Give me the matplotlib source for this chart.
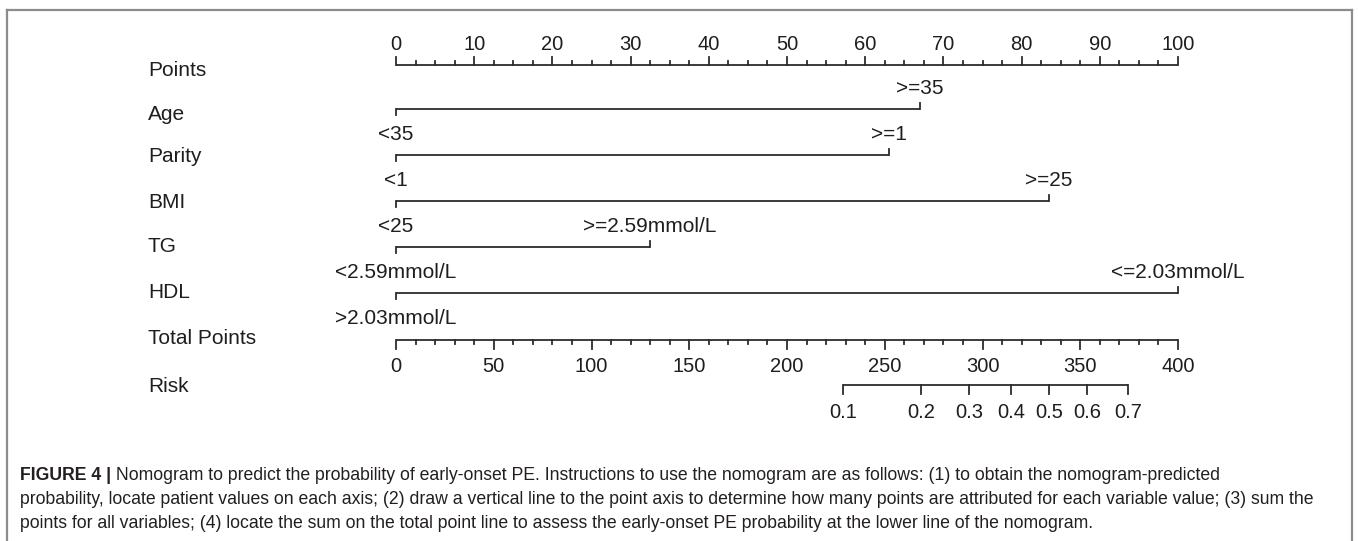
import matplotlib
matplotlib.use('Agg')
import matplotlib.pyplot as plt
from matplotlib.lines import Line2D
import numpy as np

plt.rcParams['font.family'] = ['Liberation Sans', 'DejaVu Sans']

# ---------------- data ----------------
points_ticks = [0, 10, 20, 30, 40, 50, 60, 70, 80, 90, 100]
variables = ['Age', 'Parity', 'BMI', 'TG', 'HDL']
low_labels = ['<35', '<1', '<25', '<2.59mmol/L', '>2.03mmol/L']
high_labels = ['>=35', '>=1', '>=25', '>=2.59mmol/L', '<=2.03mmol/L']
low_points = [0, 0, 0, 0, 0]
high_points = [67, 63, 83.5, 32.5, 100]
total_ticks = [0, 50, 100, 150, 200, 250, 300, 350, 400]
risk_ticks = ['0.1', '0.2', '0.3', '0.4', '0.5', '0.6', '0.7']
risk_total_points = [228.5, 268.5, 293, 314.5, 334, 353.5, 374.5]

caption_bold = 'FIGURE 4 |'
caption_lines = [
    ' Nomogram to predict the probability of early-onset PE. Instructions to use the nomogram are as follows: (1) to obtain the nomogram-predicted',
    'probability, locate patient values on each axis; (2) draw a vertical line to the point axis to determine how many points are attributed for each variable value; (3) sum the',
    'points for all variables; (4) locate the sum on the total point line to assess the early-onset PE probability at the lower line of the nomogram.',
]

# ---------------- layout ----------------
W, H = 1358, 541
X0, PX = 396, 7.82          # pixel of 0 points, pixels per point
TOTAL_MAX = 400.0
row_names = ['Points'] + variables + ['Total Points', 'Risk']
row_line_y = [65, 109, 155, 201, 247, 293, 340, 385]
row_label_y = [70, 115, 157, 203, 246, 293, 338, 387]
label_px = 148
line_col = '#2c2c2c'
text_col = '#1e1e1e'
lw = 1.3
fs_row = 15
fs_tick = 14.5
fs_cat = 15

fig = plt.figure(figsize=(W / 100, H / 100), dpi=100)
ax = fig.add_axes([0, 0, 1, 1])
ax.set_xlim(-X0 / PX, (W - X0) / PX)
ax.set_ylim(H, 0)
ax.axis('off')

def tp2pt(v):
    return np.asarray(v, dtype=float) * 100.0 / TOTAL_MAX

label_x = (label_px - X0) / PX
for name, y in zip(row_names, row_label_y):
    ax.text(label_x, y, name, ha='left', va='center', fontsize=fs_row, color=text_col)

# Points axis
yp = row_line_y[0]
ax.plot([points_ticks[0], points_ticks[-1]], [yp, yp], color=line_col, lw=lw, solid_capstyle='butt')
minor = np.arange(points_ticks[0], points_ticks[-1] + 0.01, 2.5)
for m in minor:
    ln = 8 if np.isclose(m % 10, 0) else 4
    ax.plot([m, m], [yp - ln, yp], color=line_col, lw=lw)
for t in points_ticks:
    ax.text(t, yp - 20, str(t), ha='center', va='center', fontsize=fs_tick, color=text_col)

# variable lines
for i in range(len(variables)):
    y = row_line_y[i + 1]
    lo, hi = low_points[i], high_points[i]
    ax.plot([lo, hi], [y, y], color=line_col, lw=lw, solid_capstyle='butt')
    ax.plot([lo, lo], [y, y + 6], color=line_col, lw=lw)
    ax.plot([hi, hi], [y - 6, y], color=line_col, lw=lw)
    ax.text(lo, y + 26, low_labels[i], ha='center', va='center', fontsize=fs_cat, color=text_col)
    ax.text(hi, y - 21, high_labels[i], ha='center', va='center', fontsize=fs_cat, color=text_col)

# Total points axis
yt = row_line_y[6]
ax.plot(tp2pt([total_ticks[0], total_ticks[-1]]), [yt, yt], color=line_col, lw=lw, solid_capstyle='butt')
for m in np.arange(total_ticks[0], total_ticks[-1] + 0.01, 10):
    ln = 9 if np.isclose(m % 50, 0) else 4
    x = tp2pt(m)
    ax.plot([x, x], [yt, yt + ln], color=line_col, lw=lw)
for t in total_ticks:
    ax.text(tp2pt(t), yt + 27, str(t), ha='center', va='center', fontsize=fs_tick, color=text_col)

# Risk axis
yr = row_line_y[7]
rx = tp2pt(risk_total_points)
ax.plot([rx[0], rx[-1]], [yr, yr], color=line_col, lw=lw, solid_capstyle='butt')
for x, lab in zip(rx, risk_ticks):
    ax.plot([x, x], [yr, yr + 9], color=line_col, lw=lw)
    ax.text(x, yr + 28, lab, ha='center', va='center', fontsize=fs_tick, color=text_col)

# frame
fcol = '#8c8c8c'
for xs, ys in [([7, 1352], [10, 10]), ([7, 7], [10, 545]), ([1352, 1352], [10, 545])]:
    fig.add_artist(Line2D([x / W for x in xs], [1 - y / H for y in ys], color=fcol, lw=1.6))

# caption
cap_fs = 12.7
cap_col = '#231f20'
cap_y = [475, 500, 523]
fig.canvas.draw()
r = fig.canvas.get_renderer()
tb = fig.text(20 / W, 1 - cap_y[0] / H, caption_bold, ha='left', va='center', fontsize=cap_fs,
              fontweight='bold', color=cap_col)
bb = tb.get_window_extent(renderer=r)
fig.text(bb.x1 / W, 1 - cap_y[0] / H, caption_lines[0], ha='left', va='center', fontsize=cap_fs, color=cap_col)
for yy, line in zip(cap_y[1:], caption_lines[1:]):
    fig.text(20 / W, 1 - yy / H, line, ha='left', va='center', fontsize=cap_fs, color=cap_col)

fig.savefig('out.png', dpi=100)
